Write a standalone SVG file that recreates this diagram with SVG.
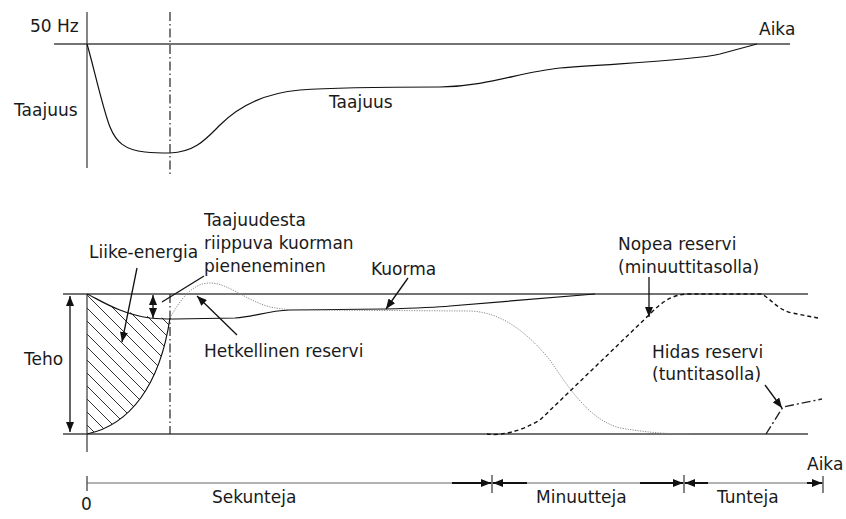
<svg xmlns="http://www.w3.org/2000/svg" width="846" height="519" viewBox="0 0 846 519">
<style>
text{font-family:"DejaVu Sans","Liberation Sans",sans-serif;font-size:17px;fill:#1a1a1a}
.ax{stroke:#444;stroke-width:1.3;fill:none}
.cv{stroke:#111;stroke-width:1.2;fill:none}
.dd{stroke:#222;stroke-width:1.2;fill:none;stroke-dasharray:9 3 1.5 3}
.dot{stroke:#888;stroke-width:1;fill:none;stroke-dasharray:1.2 1.3}
.dash{stroke:#111;stroke-width:1.4;fill:none;stroke-dasharray:4 3}
.hid{stroke:#222;stroke-width:1.4;fill:none;stroke-dasharray:9 3 2 3}
.ar{stroke:#111;stroke-width:1.3;fill:none}
.tl{stroke:#666;stroke-width:1.2;fill:none}
.tk{stroke:#111;stroke-width:2;fill:none}
</style>
<defs>
<marker id="ah" viewBox="0 0 10 8" refX="10" refY="4" markerWidth="10" markerHeight="8" markerUnits="userSpaceOnUse" orient="auto-start-reverse">
<path d="M0,0 L10,4 L0,8 Z" fill="#111"/>
</marker>
<pattern id="hatch" patternUnits="userSpaceOnUse" width="13" height="13">
<path d="M-1,-1 L14,14 M-1,12 L1,14 M12,-1 L14,1" stroke="#333" stroke-width="1"/>
</pattern>
<clipPath id="hc"><path d="M87,295 C100,300 125,316 165,318 L170,318 C160,385 130,425 87,434 Z"/></clipPath>
</defs>

<g id="top-graph">
<line class="ax" x1="87" y1="12" x2="87" y2="168"/>
<line class="ax" x1="54" y1="44" x2="790" y2="44"/>
<line class="dd" x1="170" y1="12" x2="170" y2="177"/>
<path class="cv" d="M87,44 C92,60 103,110 110,127 C116,142 125,150 145,152 C155,153 163,153 170,153 C195,152 205,140 220,125 C240,105 265,93 300,90 C340,87 400,87 440,87 C490,86 520,72 560,68 C620,63 690,61 720,54 L757,44"/>
<text x="30" y="32">50 Hz</text>
<text x="759" y="35">Aika</text>
<text x="14" y="116">Taajuus</text>
<text x="329" y="108">Taajuus</text>
</g>

<g id="power-graph">
<line class="ax" x1="63" y1="294" x2="808" y2="294"/>
<line class="ax" x1="63" y1="434" x2="808" y2="434"/>
<line class="ax" x1="87" y1="294" x2="87" y2="452"/>
<line class="dd" x1="170" y1="294" x2="170" y2="434"/>
<rect x="87" y="290" width="90" height="150" fill="url(#hatch)" clip-path="url(#hc)"/>
<path class="cv" d="M87,434 C130,425 160,385 170,318"/>
</g>

<g id="kuorma">
<path class="cv" d="M87,294 C100,300 120,314 150,318 C160,319 165,319 175,319 L235,318 C255,317 265,311 290,310 L385,309 C420,308 440,307 450,306 L595,294"/>
<text x="371" y="275">Kuorma</text>
</g>

<g id="hetkellinen-reservi">
<path class="dot" d="M170,318 C180,300 192,283 210,283 C228,283 245,300 270,307 C280,309 290,310 300,310 L470,311 C500,312 525,330 550,360 C570,390 590,420 620,428 C650,433 670,434 690,434"/>
<text x="204" y="357">Hetkellinen reservi</text>
</g>

<g id="nopea-reservi">
<path class="dash" d="M487,434 C500,436 520,432 540,420 L650,314 C662,302 672,294 690,294 L762,294 C772,300 778,310 792,313 L818,318"/>
<text x="618" y="250">Nopea reservi</text>
<text x="618" y="273">(minuuttitasolla)</text>
</g>

<g id="hidas-reservi">
<path class="hid" d="M766,434 L783,407 L822,399"/>
<text x="652" y="358">Hidas reservi</text>
<text x="652" y="380">(tuntitasolla)</text>
</g>

<g id="liike-energia">
<text x="89" y="258">Liike-energia</text>
</g>

<g id="kuorman-pieneneminen">
<text x="204" y="226">Taajuudesta</text>
<text x="204" y="249">riippuva kuorman</text>
<text x="204" y="272">pieneneminen</text>
</g>

<g id="teho">
<text x="24" y="365">Teho</text>
</g>

<g id="connectors">
<line class="ar" x1="70" y1="296" x2="70" y2="432" marker-start="url(#ah)" marker-end="url(#ah)"/>
<line class="ar" x1="153" y1="295" x2="153" y2="318" marker-start="url(#ah)" marker-end="url(#ah)"/>
<line class="ar" x1="137" y1="268" x2="122" y2="342" marker-end="url(#ah)"/>
<line class="ar" x1="204" y1="276" x2="162" y2="302"/>
<line class="ar" x1="237" y1="335" x2="197" y2="296" marker-end="url(#ah)"/>
<line class="ar" x1="408" y1="278" x2="386" y2="309" marker-end="url(#ah)"/>
<line class="ar" x1="649" y1="277" x2="649" y2="317" marker-end="url(#ah)"/>
<line class="ar" x1="765" y1="385" x2="782" y2="408" marker-end="url(#ah)"/>
</g>

<g id="timeline">
<line class="tl" x1="87" y1="483" x2="823" y2="483"/>
<line class="ax" x1="87" y1="476" x2="87" y2="491"/>
<line class="ax" x1="492" y1="475" x2="492" y2="493"/>
<line class="ax" x1="684" y1="475" x2="684" y2="493"/>
<line class="ax" x1="823" y1="476" x2="823" y2="493"/>
<line class="tk" x1="452" y1="483" x2="491" y2="483" marker-end="url(#ah)"/>
<line class="tk" x1="527" y1="483" x2="493" y2="483" marker-end="url(#ah)"/>
<line class="tk" x1="640" y1="483" x2="683" y2="483" marker-end="url(#ah)"/>
<line class="tk" x1="708" y1="483" x2="685" y2="483" marker-end="url(#ah)"/>
<line class="tk" x1="807" y1="483" x2="822" y2="483" marker-end="url(#ah)"/>
<text x="807" y="470">Aika</text>
<text x="81" y="510">0</text>
<text x="212" y="503">Sekunteja</text>
<text x="536" y="503">Minuutteja</text>
<text x="717" y="503">Tunteja</text>
</g>
</svg>
